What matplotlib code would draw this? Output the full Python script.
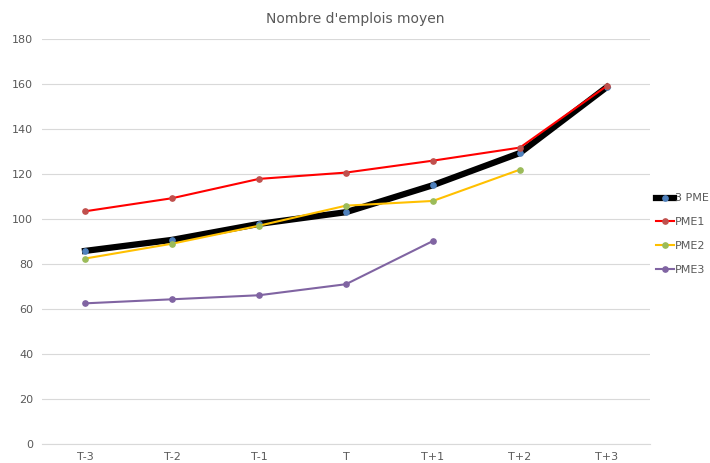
import matplotlib.pyplot as plt
import numpy as np

periods = ["T-3", "T-2", "T-1", "T", "T+1", "T+2", "T+3"]
pme_all = [85.8, 90.7, 97.8, 103.0, 115.0, 129.3, 158.6]
pme1 = [103.4, 109.2, 117.8, 120.6, 125.9, 131.7, 159.1]
pme2 = [82.4, 89.0, 97.0, 105.9, 108.0, 121.9]
pme3 = [62.5, 64.3, 66.1, 71.0, 90.2]

x = np.arange(len(periods))

fig = plt.figure(figsize=(7.1, 4.63), dpi=100)
ax = fig.add_axes([0.0585, 0.041, 0.8575, 0.875])

ax.plot(x, pme_all, color="black", lw=4.5, marker="o", ms=3.8,
        mfc="#4F81BD", mec="#4F81BD", label="3 PME", zorder=3)
ax.plot(x, pme1, color="#FF0000", lw=1.5, marker="o", ms=3.8,
        mfc="#C0504D", mec="#C0504D", label="PME1", zorder=4)
ax.plot(x[:len(pme2)], pme2, color="#FFC000", lw=1.5, marker="o", ms=3.8,
        mfc="#9BBB59", mec="#9BBB59", label="PME2", zorder=4)
ax.plot(x[:len(pme3)], pme3, color="#8064A2", lw=1.5, marker="o", ms=3.8,
        mfc="#8064A2", mec="#8064A2", label="PME3", zorder=4)

ax.set_xlim(-0.5, len(periods) - 0.5)
ax.set_ylim(0, 180)
ax.set_yticks(range(0, 181, 20))
ax.set_xticks(x)
ax.set_xticklabels(periods)
ax.tick_params(axis="both", length=0, labelsize=8, colors="#595959", pad=6)
ax.grid(axis="y", color="#D9D9D9", lw=0.8)
ax.set_axisbelow(True)
for side in ["top", "right", "left"]:
    ax.spines[side].set_visible(False)
ax.spines["bottom"].set_color("#D9D9D9")

fig.suptitle("Nombre d'emplois moyen", x=0.5, y=0.975, fontsize=10, color="#595959")

fig.legend(loc="center left", bbox_to_anchor=(0.924, 0.494), frameon=False,
           fontsize=8, handlelength=1.6, handletextpad=0.1, labelspacing=1.25,
           borderpad=0, borderaxespad=0, labelcolor="#595959")

fig.savefig("out.png", dpi=100)
